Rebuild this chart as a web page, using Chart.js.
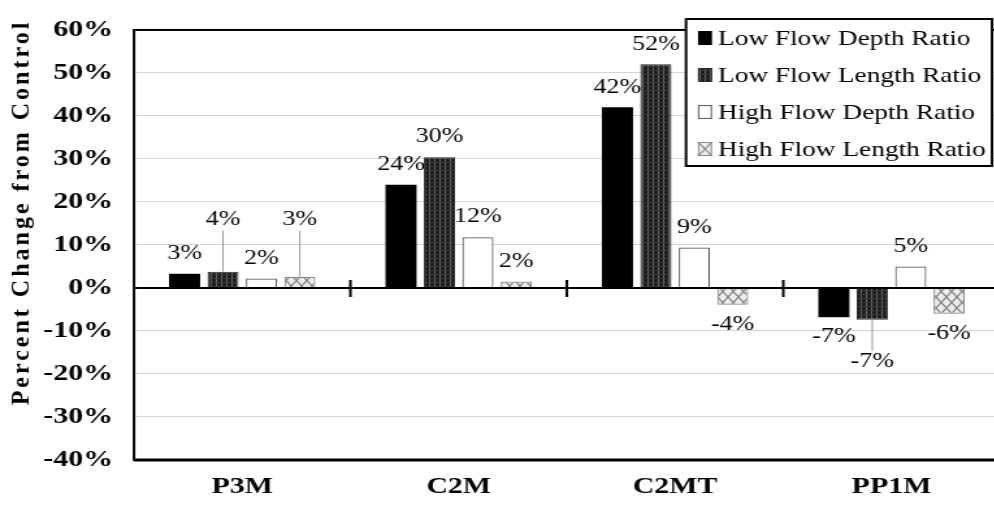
<!DOCTYPE html>
<html><head><meta charset="utf-8">
<script src="https://cdn.jsdelivr.net/npm/chart.js@4.4.1/dist/chart.umd.min.js"></script>
<style>html,body{margin:0;padding:0;overflow:hidden;background:#fff;width:994px;height:505px}</style>
</head><body>
<canvas id="c" width="770" height="505" style="display:block;width:1001px;height:505px"></canvas>
<script>
// ---- data ----
const categories = ['P3M', 'C2M', 'C2MT', 'PP1M'];
const seriesNames = ['Low Flow Depth Ratio', 'Low Flow Length Ratio', 'High Flow Depth Ratio', 'High Flow Length Ratio'];
const lowFlowDepth   = [3.3, 24.0, 42.0, -6.8];
const lowFlowLength  = [3.8, 30.4, 52.0, -7.4];
const highFlowDepth  = [2.2, 11.8, 9.4, 5.0];
const highFlowLength = [2.6, 1.5, -3.9, -6.0];
const yTicks = [-40, -30, -20, -10, 0, 10, 20, 30, 40, 50, 60];
const yTitle = 'Percent Change from Control';

// ---- styling (kept apart from data) ----
// The reference figure is horizontally stretched (~1.3x); the canvas is drawn
// in its own coordinates and displayed wider via CSS.
const SX = 1.3;
const dx = v => v / SX;   // display-x -> canvas-x
const FAMILY = "'Liberation Serif', 'Times New Roman', serif";
const labelLift = { '1,0': 32, '3,0': 37, '1,3': 22 }; // labels raised with a leader line

function makePattern(w, h, draw) {
  const c = document.createElement('canvas');
  c.width = w; c.height = h;
  const g = c.getContext('2d');
  draw(g, w, h);
  return document.getElementById('c').getContext('2d').createPattern(c, 'repeat');
}
const darkPattern = makePattern(4, 4, (g, w, h) => {
  g.fillStyle = '#1c1c1c'; g.fillRect(0, 0, w, h);
  g.fillStyle = '#686868'; g.fillRect(2, 0, 1, h);
  g.fillStyle = '#3a3a3a'; g.fillRect(0, 2, w, 1);
});
const crossPattern = makePattern(8, 11, (g, w, h) => {
  g.fillStyle = '#ebebeb'; g.fillRect(0, 0, w, h);
  g.strokeStyle = '#7c7c7c'; g.lineWidth = 1.1;
  g.beginPath();
  g.moveTo(-0.8, -1.1); g.lineTo(w + 0.8, h + 1.1);
  g.moveTo(w + 0.8, -1.1); g.lineTo(-0.8, h + 1.1);
  g.stroke();
});

const seriesValues = [lowFlowDepth, lowFlowLength, highFlowDepth, highFlowLength];
const seriesFill = ['#000000', darkPattern, '#ffffff', crossPattern];
const seriesBorder = ['#000000', '#2a2a2a', '#555555', '#8a8a8a'];
const seriesBorderW = [0, 1, 1.2, 1.2];

const datasets = seriesValues.map((vals, i) => ({
  label: seriesNames[i],
  data: vals,
  backgroundColor: seriesFill[i],
  borderColor: seriesBorder[i],
  borderWidth: seriesBorderW[i],
  categoryPercentage: 0.71,
  barPercentage: 0.81
}));

const overlayPlugin = {
  id: 'overlay',
  afterDatasetsDraw(chart) {
    const ctx = chart.ctx, a = chart.chartArea;
    const xs = chart.scales.x, ys = chart.scales.y;
    ctx.save();
    // frame
    ctx.strokeStyle = '#000'; ctx.lineWidth = 2;
    ctx.strokeRect(a.left, a.top, a.right - a.left, a.bottom - a.top);
    ctx.lineWidth = 3;
    ctx.beginPath(); ctx.moveTo(a.left, a.bottom); ctx.lineTo(a.right, a.bottom); ctx.stroke();
    // zero line + category separators
    const y0 = ys.getPixelForValue(0);
    ctx.lineWidth = 2;
    ctx.beginPath(); ctx.moveTo(a.left, y0); ctx.lineTo(a.right, y0); ctx.stroke();
    for (let i = 1; i < categories.length; i++) {
      const x = (xs.getPixelForValue(i - 1) + xs.getPixelForValue(i)) / 2;
      ctx.beginPath(); ctx.moveTo(x, y0 - 8); ctx.lineTo(x, y0 + 9); ctx.stroke();
    }
    // data labels
    ctx.font = '20px ' + FAMILY;
    ctx.fillStyle = '#000';
    ctx.textAlign = 'center';
    ctx.textBaseline = 'middle';
    chart.data.datasets.forEach((ds, i) => {
      const meta = chart.getDatasetMeta(i);
      meta.data.forEach((bar, j) => {
        const v = ds.data[j];
        const lift = labelLift[i + ',' + j] || 0;
        const dir = v >= 0 ? -1 : 1;
        const ly = bar.y + dir * (20 + lift);
        if (lift) {
          ctx.strokeStyle = '#9a9a9a'; ctx.lineWidth = 1;
          ctx.beginPath();
          ctx.moveTo(bar.x, bar.y);
          ctx.lineTo(bar.x, ly - dir * 11);
          ctx.stroke();
        }
        ctx.fillText(Math.round(v) + '%', bar.x, ly);
      });
    });
    ctx.restore();
  },
  afterDraw(chart) {
    const ctx = chart.ctx;
    // y-axis title (letters spaced, not stretched, as in the reference)
    ctx.save();
    ctx.translate(dx(23), 214);
    ctx.rotate(-Math.PI / 2);
    ctx.scale(1, 1 / SX);
    ctx.letterSpacing = '3px';
    ctx.font = 'bold 24px ' + FAMILY;
    ctx.fillStyle = '#000';
    ctx.textAlign = 'center';
    ctx.textBaseline = 'middle';
    ctx.fillText(yTitle, 1.5, 0);
    ctx.restore();

    // legend
    ctx.save();
    const bx = dx(686), by = 19, bw = dx(992) - dx(686), bh = 147;
    ctx.fillStyle = '#fff';
    ctx.fillRect(bx, by, bw, bh);
    ctx.strokeStyle = '#000'; ctx.lineWidth = 2;
    ctx.strokeRect(bx, by, bw, bh);
    ctx.font = '21px ' + FAMILY;
    ctx.textAlign = 'left';
    ctx.textBaseline = 'middle';
    chart.data.datasets.forEach((ds, i) => {
      const cy = 38 + i * 37;
      const mx = dx(698), my = cy - 7, mw = dx(14), mh = 14;
      ctx.fillStyle = ds.backgroundColor;
      ctx.fillRect(mx, my, mw, mh);
      if (i === 3) {
        ctx.fillStyle = '#ebebeb'; ctx.fillRect(mx, my, mw, mh);
        ctx.strokeStyle = '#7c7c7c'; ctx.lineWidth = 1.1;
        ctx.beginPath();
        ctx.moveTo(mx, my); ctx.lineTo(mx + mw, my + mh);
        ctx.moveTo(mx + mw, my); ctx.lineTo(mx, my + mh);
        ctx.stroke();
      }
      if (i > 0) {
        ctx.strokeStyle = ds.borderColor; ctx.lineWidth = 1;
        ctx.strokeRect(mx + 0.5, my + 0.5, mw - 1, mh - 1);
      }
      ctx.fillStyle = '#000';
      ctx.fillText(ds.label, dx(718), cy + 1);
    });
    ctx.restore();
  }
};

new Chart(document.getElementById('c'), {
  type: 'bar',
  data: { labels: categories, datasets },
  plugins: [overlayPlugin],
  options: {
    responsive: false,
    animation: false,
    devicePixelRatio: 1,
    layout: { padding: { left: 0, right: 1, top: 21, bottom: 0 } },
    plugins: { legend: { display: false }, tooltip: { enabled: false } },
    scales: {
      x: {
        grid: { display: false, drawTicks: false },
        border: { display: false },
        ticks: { color: '#000', font: { family: FAMILY, size: 23, weight: 'bold' }, padding: 13 },
        afterFit(s) { s.height = 45; }
      },
      y: {
        min: -40, max: 60,
        afterBuildTicks(s) { s.ticks = yTicks.map(v => ({ value: v })); },
        grid: {
          drawTicks: false,
          color: c => (c.tick && c.tick.value === 0) ? 'rgba(0,0,0,0)' : '#d6d6d6',
          lineWidth: 1
        },
        border: { display: false },
        ticks: {
          color: '#000',
          font: { family: FAMILY, size: 23, weight: 'bold' },
          padding: dx(21),
          callback: v => v + '%'
        },
        afterFit(s) { s.width = dx(134); }
      }
    }
  }
});
</script>
</body></html>
